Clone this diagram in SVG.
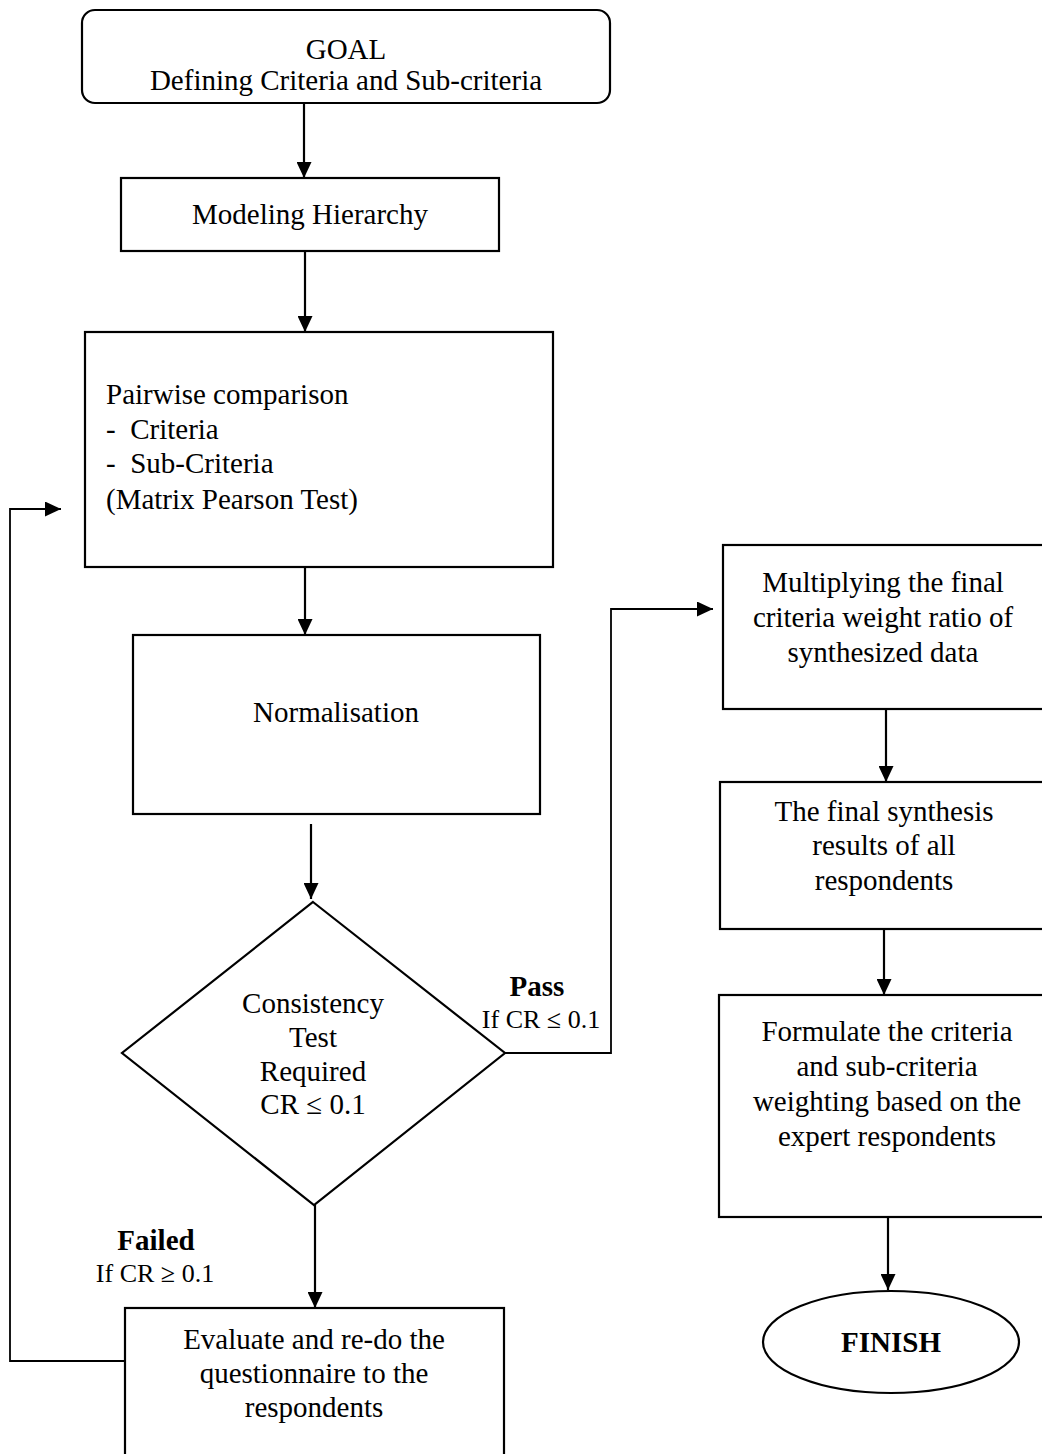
<svg xmlns="http://www.w3.org/2000/svg" width="1042" height="1454" viewBox="0 0 1042 1454">
  <style>
    .box { fill: #ffffff; stroke: #000000; stroke-width: 2.2; }
    .link { fill: none; stroke: #000000; stroke-width: 2.2; }
    .thin { stroke-width: 1.8; }
    text { font-family: "Liberation Serif", "Times New Roman", serif; font-size: 29px; fill: #000000; white-space: pre; }
    .c { text-anchor: middle; }
    .b { font-weight: bold; }
    .s { font-size: 26px; }
  </style>
  <defs>
    <marker id="arrow" markerWidth="16" markerHeight="15" refX="16" refY="7.5" orient="auto" markerUnits="userSpaceOnUse">
      <path d="M0,0 L16,7.5 L0,15 z" fill="#000000"/>
    </marker>
  </defs>

  <rect width="1042" height="1454" fill="#ffffff"/>

  <!-- connectors -->
  <g id="connectors">
    <line class="link" x1="304" y1="103" x2="304" y2="178" marker-end="url(#arrow)"/>
    <line class="link" x1="305" y1="251" x2="305" y2="332" marker-end="url(#arrow)"/>
    <line class="link" x1="305" y1="567" x2="305" y2="635" marker-end="url(#arrow)"/>
    <line class="link" x1="311" y1="824" x2="311" y2="899" marker-end="url(#arrow)"/>
    <line class="link" x1="315" y1="1205" x2="315" y2="1308" marker-end="url(#arrow)"/>
    <polyline class="link thin" points="505,1053 611,1053 611,609 713,609" marker-end="url(#arrow)"/>
    <polyline class="link thin" points="125,1361 10,1361 10,509 61,509" marker-end="url(#arrow)"/>
    <line class="link" x1="886" y1="709" x2="886" y2="782" marker-end="url(#arrow)"/>
    <line class="link" x1="884" y1="929" x2="884" y2="995" marker-end="url(#arrow)"/>
    <line class="link" x1="888" y1="1217" x2="888" y2="1290" marker-end="url(#arrow)"/>
  </g>

  <!-- start: goal -->
  <g id="goal">
    <rect class="box" x="82" y="10" width="528" height="93" rx="13" ry="13"/>
    <text class="c" x="346" y="59">GOAL</text>
    <text class="c" x="346" y="90">Defining Criteria and Sub-criteria</text>
  </g>

  <g id="modeling">
    <rect class="box" x="121" y="178" width="378" height="73"/>
    <text class="c" x="310" y="224">Modeling Hierarchy</text>
  </g>

  <g id="pairwise">
    <rect class="box" x="85" y="332" width="468" height="235"/>
    <text x="106" y="404">Pairwise comparison</text>
    <text x="106" y="439">-  Criteria</text>
    <text x="106" y="473">-  Sub-Criteria</text>
    <text x="106" y="509">(Matrix Pearson Test)</text>
  </g>

  <g id="normalisation">
    <rect class="box" x="133" y="635" width="407" height="179"/>
    <text class="c" x="336" y="722">Normalisation</text>
  </g>

  <!-- decision -->
  <g id="consistency">
    <polygon class="box" points="313,902 505,1053 314,1205 122,1053"/>
    <text class="c" x="313" y="1013">Consistency</text>
    <text class="c" x="313" y="1047">Test</text>
    <text class="c" x="313" y="1081">Required</text>
    <text class="c" x="313" y="1114">CR ≤ 0.1</text>
  </g>

  <g id="pass-label">
    <text class="c b" x="537" y="996">Pass</text>
    <text class="c s" x="541" y="1028">If CR ≤ 0.1</text>
  </g>

  <g id="failed-label">
    <text class="c b" x="156" y="1250">Failed</text>
    <text class="c s" x="155" y="1282">If CR ≥ 0.1</text>
  </g>

  <g id="evaluate">
    <rect class="box" x="125" y="1308" width="379" height="160"/>
    <text class="c" x="314" y="1349">Evaluate and re-do the</text>
    <text class="c" x="314" y="1383">questionnaire to the</text>
    <text class="c" x="314" y="1417">respondents</text>
  </g>

  <g id="multiplying">
    <rect class="box" x="723" y="545" width="330" height="164"/>
    <text class="c" x="883" y="592">Multiplying the final</text>
    <text class="c" x="883" y="627">criteria weight ratio of</text>
    <text class="c" x="883" y="662">synthesized data</text>
  </g>

  <g id="synthesis">
    <rect class="box" x="720" y="782" width="333" height="147"/>
    <text class="c" x="884" y="821">The final synthesis</text>
    <text class="c" x="884" y="855">results of all</text>
    <text class="c" x="884" y="890">respondents</text>
  </g>

  <g id="formulate">
    <rect class="box" x="719" y="995" width="334" height="222"/>
    <text class="c" x="887" y="1041">Formulate the criteria</text>
    <text class="c" x="887" y="1076">and sub-criteria</text>
    <text class="c" x="887" y="1111">weighting based on the</text>
    <text class="c" x="887" y="1146">expert respondents</text>
  </g>

  <!-- end -->
  <g id="finish">
    <ellipse class="box" cx="891" cy="1342" rx="128" ry="51"/>
    <text class="c b" x="891" y="1352">FINISH</text>
  </g>
</svg>
